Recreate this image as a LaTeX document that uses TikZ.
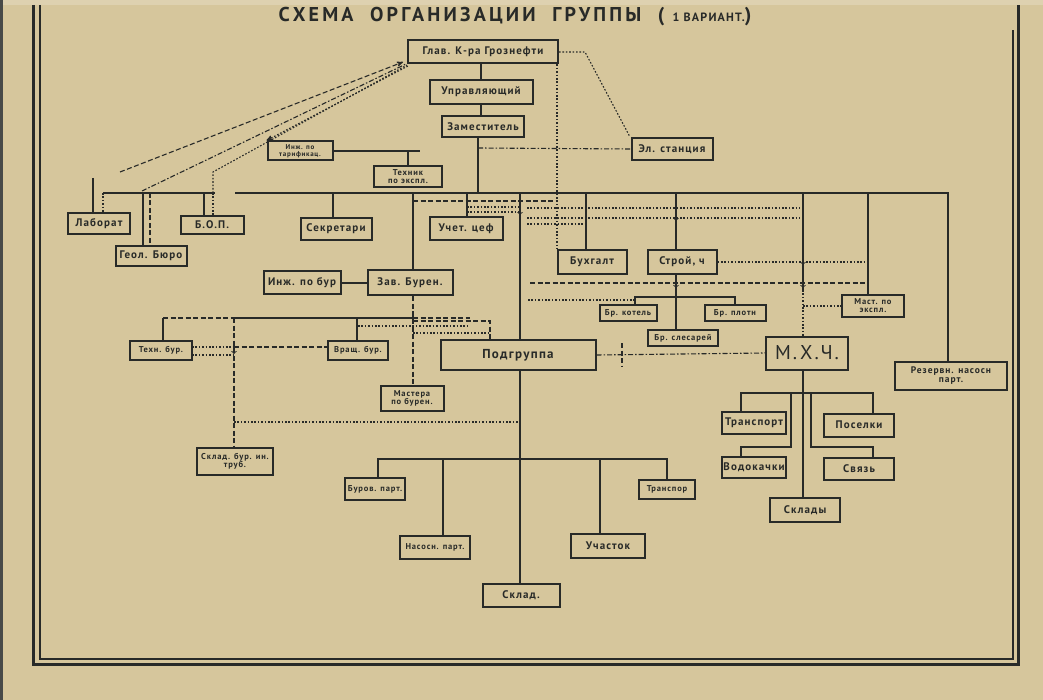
\documentclass[tikz,border=0pt]{standalone}
\usepackage{fontspec}
\setmainfont{PT Sans}
\newfontfamily\boxfont[LetterSpace=10]{PT Sans}
\newfontfamily\titlefont[LetterSpace=16]{PT Sans}
\usetikzlibrary{arrows}
\usetikzlibrary{positioning}
\definecolor{paper}{RGB}{214,198,156}
\definecolor{ink}{RGB}{40,42,40}
\tikzset{
	unit/.style={
			rectangle, draw=ink, line width=2pt, fill=paper, text=ink,
			inner sep=1pt, align=center, font=\boxfont\bfseries\fontsize{11}{11}\selectfont},
	subunit/.style={unit, font=\boxfont\bfseries\fontsize{8.5}{8}\selectfont},
	link/.style={draw=ink, line width=1.3pt},
	dashline/.style={draw=ink, line width=1.1pt, dash pattern=on 5pt off 2.5pt},
	dotline/.style={draw=ink, line width=1.1pt, dash pattern=on 1.6pt off 1.8pt},
	dashdot/.style={draw=ink, line width=1.1pt, dash pattern=on 5pt off 2pt on 1.5pt off 2pt},
	vmark/.style={draw=ink, line width=1pt, -to},
		}
\begin{document}
\begin{tikzpicture}[x=1pt, y=-1pt, >=stealth']
	\useasboundingbox (0,0) rectangle (1043,700);
	\fill[paper] (0,0) rectangle (1043,700);
	\fill[paper!80!white] (0,0) rectangle (1043,5);
	\fill[ink!85] (0,0) rectangle (3,700);
	\draw[ink, line width=3pt] (33,5) -- (33,664) -- (1018,664) -- (1018,5);
	\draw[ink, line width=1.5pt] (40,5) -- (40,659) -- (1013,659) -- (1013,30);

	\node[text=ink, font=\titlefont\bfseries\fontsize{20}{20}\selectfont] (title) at (515,17)
		{СХЕМА\ \ ОРГАНИЗАЦИИ\ \ ГРУППЫ\ \ ( {\boxfont\bfseries\fontsize{12}{12}\selectfont 1 ВАРИАНТ.})};

%	top of the scheme
	\node[unit, minimum width=150pt, minimum height=23pt] (glav) at (483,52) {Глав. К-ра Грознефти};
	\node[unit, minimum width=103pt, minimum height=24pt] (upr) at (481,92) {Управляющий};
	\node[unit, minimum width=82pt, minimum height=21pt] (zam) at (483,127) {Заместитель};
	\node[unit, minimum width=81pt, minimum height=22pt] (el) at (672,149) {Эл. станция};
	\node[subunit, minimum width=65pt, minimum height=19pt, font=\boxfont\bfseries\fontsize{7}{7}\selectfont] (ingtar) at (300,151) {Инж. по\\тарификац.};
	\node[subunit, minimum width=68pt, minimum height=21pt] (tech) at (408,177) {Техник\\по экспл.};

%	under the main line
	\node[unit, minimum width=62pt, minimum height=21pt] (lab) at (99,224) {Лаборат};
	\node[unit, minimum width=71pt, minimum height=20pt] (geol) at (151,256) {Геол. Бюро};
	\node[unit, minimum width=63pt, minimum height=18pt] (bop) at (212,225) {Б.О.П.};
	\node[unit, minimum width=71pt, minimum height=22pt] (sekr) at (336,229) {Секретари};
	\node[unit, minimum width=73pt, minimum height=23pt] (uchet) at (466,229) {Учет. цеф};
	\node[unit, minimum width=69pt, minimum height=24pt] (buh) at (592,262) {Бухгалт};
	\node[unit, minimum width=69pt, minimum height=24pt] (stroi) at (682,262) {Строй, ч};
	\node[unit, minimum width=85pt, minimum height=25pt] (zavbur) at (410,283) {Зав. Бурен.};
	\node[unit, minimum width=77pt, minimum height=23pt] (ingbur) at (302,283) {Инж. по бур};
	\node[subunit, minimum width=62pt, minimum height=21pt] (masteksp) at (873,306) {Маст. по\\экспл.};
	\node[subunit, minimum width=57pt, minimum height=16pt] (brkot) at (628,313) {Бр. котель};
	\node[subunit, minimum width=61pt, minimum height=16pt] (brplot) at (735,313) {Бр. плотн};
	\node[subunit, minimum width=70pt, minimum height=16pt] (brsles) at (683,338) {Бр. слесарей};
	\node[unit, minimum width=155pt, minimum height=30pt, font=\boxfont\bfseries\fontsize{13}{13}\selectfont] (podgr) at (518,355) {Подгруппа};
	\node[unit, minimum width=82pt, minimum height=33pt, font=\boxfont\fontsize{20}{20}\selectfont] (mhch) at (807,353) {М.Х.Ч.};
	\node[subunit, minimum width=112pt, minimum height=28pt, font=\boxfont\bfseries\fontsize{9.5}{9}\selectfont] (reserv) at (951,376) {Резервн. насосн\\парт.};

%	drilling part
	\node[subunit, minimum width=62pt, minimum height=19pt] (tehbur) at (161,350) {Техн. бур.};
	\node[subunit, minimum width=60pt, minimum height=19pt] (vrash) at (358,350) {Вращ. бур.};
	\node[subunit, minimum width=63pt, minimum height=25pt] (masterbur) at (412,398) {Мастера\\по бурен.};
	\node[subunit, minimum width=76pt, minimum height=27pt] (skladbur) at (235,461) {Склад. бур. ин.\\труб.};

%	under the subgroup
	\node[subunit, minimum width=60pt, minimum height=22pt] (burov) at (375,489) {Буров. парт.};
	\node[subunit, minimum width=70pt, minimum height=23pt] (nasosn) at (435,547) {Насосн. парт.};
	\node[unit, minimum width=77pt, minimum height=23pt] (sklad) at (521,595) {Склад.};
	\node[unit, minimum width=74pt, minimum height=24pt] (uchastok) at (608,546) {Участок};
	\node[subunit, minimum width=56pt, minimum height=19pt] (transp) at (667,489) {Транспор};

%	under M.X.Ch.
	\node[unit, minimum width=64pt, minimum height=22pt] (transport) at (754,423) {Транспорт};
	\node[unit, minimum width=70pt, minimum height=23pt] (poselki) at (859,425) {Поселки};
	\node[unit, minimum width=64pt, minimum height=21pt] (vodok) at (754,467) {Водокачки};
	\node[unit, minimum width=70pt, minimum height=22pt] (svyaz) at (859,469) {Связь};
	\node[unit, minimum width=70pt, minimum height=24pt] (sklady) at (805,510) {Склады};

%	main chain and main line
	\draw[link] (481,0 |- glav.south) -- (481,0 |- upr.north);
	\draw[link] (481,0 |- upr.south) -- (481,0 |- zam.north);
	\draw[link] (478,0 |- zam.south) -- (478,193);
	\draw[link] (103,193) -- (215,193);
	\draw[link] (235,193) -- (948,193) -- (948,0 |- reserv.north);

	\draw[link] (93,178) -- (93,0 |- lab.north);
	\draw[dotline] (103,193) -- (103,0 |- lab.north);
	\draw[link] (143,193) -- (143,0 |- geol.north);
	\draw[dashline] (150,193) -- (150,0 |- geol.north);
	\draw[link] (204,193) -- (204,0 |- bop.north);
	\draw[dotline] (213,193) -- (213,0 |- bop.north);
	\draw[link] (333,193) -- (333,0 |- sekr.north);
	\draw[link] (413,193) -- (413,0 |- zavbur.north);
	\draw[link] (467,193) -- (467,0 |- uchet.north);
	\draw[link] (520,193) -- (520,0 |- podgr.north);
	\draw[link] (586,193) -- (586,0 |- buh.north);
	\draw[link] (676,193) -- (676,0 |- stroi.north);
	\draw[link] (803,193) -- (803,290);
	\draw[dotline] (803,290) -- (803,0 |- mhch.north);
	\draw[link] (868,193) -- (868,0 |- masteksp.north);

%	lines from the head office
	\draw[dashline, ->] (120,172) -- (403,62);
	\draw[dashdot] (142,191) -- (406,64);
	\draw[dotline] (213,193) -- (213,172) -- (407,65);
	\draw[dotline, <-] (ingtar.north west) -- (408,66);
	\draw[link] (ingtar.east) -- (420,151);
	\draw[link] (408,151) -- (tech.north);
	\draw[dotline] (glav.east) -- (585,52) -- (630,0 |- el.north);
	\draw[dashdot] (478,148) -- (el.west);
	\draw[dotline] (557,0 |- glav.south) -- (557,0 |- buh.north);

%	dotted ties
	\draw[dashline] (413,201) -- (557,201);
	\draw[dotline] (467,207) -- (520,207);
	\draw[dotline] (467,212) -- (520,212);
	\draw[vmark] (520,205) -- (520,215);
	\draw[dotline] (527,208) -- (800,208);
	\draw[dotline] (527,218) -- (800,218);
	\draw[vmark] (676,211) -- (676,221);
	\draw[dotline] (527,224) -- (586,224);
	\draw[dotline] (stroi.east) -- (868,262);
	\draw[vmark] (803,255) -- (803,265);
	\draw[dashline] (530,283) -- (868,283);
	\draw[vmark] (676,278) -- (676,288);
	\draw[vmark] (803,278) -- (803,288);
	\draw[dotline] (528,300) -- (635,300);
	\draw[dotline] (803,306) -- (masteksp.west);

%	building part
	\draw[link] (676,0 |- stroi.south) -- (676,0 |- brsles.north);
	\draw[link] (635,0 |- brkot.north) -- (635,297) -- (735,297) -- (735,0 |- brplot.north);

%	subgroup and M.X.Ch.
	\draw[dashdot] (podgr.east) -- (mhch.west);
	\draw[dashline] (622,343) -- (622,366);
	\draw[link] (520,0 |- podgr.south) -- (520,0 |- sklad.north);
	\draw[link] (378,0 |- burov.north) -- (378,459) -- (667,459) -- (667,0 |- transp.north);
	\draw[link] (443,459) -- (443,0 |- nasosn.north);
	\draw[link] (600,459) -- (600,0 |- uchastok.north);
	\draw[link] (803,0 |- mhch.south) -- (803,0 |- sklady.north);
	\draw[link] (741,0 |- transport.north) -- (741,393) -- (873,393) -- (873,0 |- poselki.north);
	\draw[link] (791,393) -- (791,447) -- (741,447) -- (741,0 |- vodok.north);
	\draw[link] (811,393) -- (811,447) -- (873,447) -- (873,0 |- svyaz.north);

%	drilling part
	\draw[link] (zavbur.west) -- (ingbur.east);
	\draw[dashline] (413,0 |- zavbur.south) -- (413,0 |- masterbur.north);
	\draw[dashline] (163,318) -- (234,318);
	\draw[link] (234,318) -- (413,318);
	\draw[dashline] (413,318) -- (470,318);
	\draw[dashline] (413,321) -- (490,321) -- (490,0 |- podgr.north);
	\draw[link] (163,318) -- (163,0 |- tehbur.north);
	\draw[link] (357,318) -- (357,0 |- vrash.north);
	\draw[dashline] (234,318) -- (234,0 |- skladbur.north);
	\draw[dotline] (192,347) -- (234,347);
	\draw[dashline] (234,347) -- (vrash.west |- 0,347);
	\draw[dotline] (192,355) -- (234,355);
	\draw[vmark] (234,344) -- (234,354);
	\draw[dotline] (358,326) -- (470,326);
	\draw[dotline] (413,333) -- (490,333);
	\draw[dotline] (234,422) -- (520,422);
%
\end{tikzpicture}
\end{document}
